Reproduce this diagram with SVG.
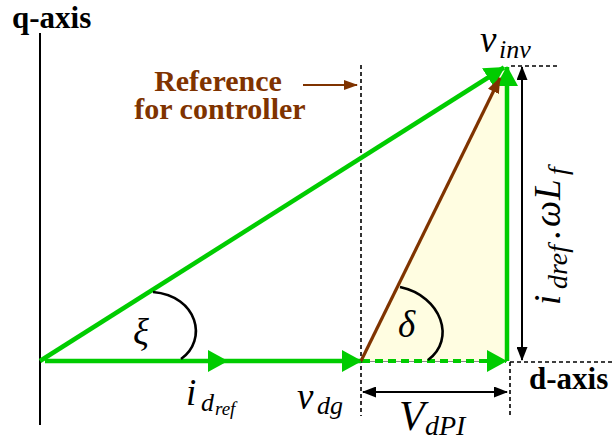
<svg xmlns="http://www.w3.org/2000/svg" width="612" height="440" viewBox="0 0 612 440">
<defs>
<marker id="gh" viewBox="0 0 20 22" refX="19" refY="11" markerUnits="userSpaceOnUse" markerWidth="20" markerHeight="22" orient="auto"><path d="M0,0 L20,11 L0,22 z" fill="#00cc00" stroke="none"/></marker>
<marker id="bh" viewBox="0 0 16 12" refX="15" refY="6" markerUnits="userSpaceOnUse" markerWidth="16" markerHeight="12" orient="auto"><path d="M0,0 L16,6 L0,12 z" fill="#7f3300" stroke="none"/></marker>
<marker id="bhs" viewBox="0 0 14 10" refX="13" refY="5" markerUnits="userSpaceOnUse" markerWidth="14" markerHeight="10" orient="auto"><path d="M0,0 L14,5 L0,10 z" fill="#7f3300" stroke="none"/></marker>
<marker id="kh" viewBox="0 0 14 11" refX="13" refY="5.5" markerUnits="userSpaceOnUse" markerWidth="14" markerHeight="11" orient="auto-start-reverse"><path d="M0,0 L14,5.5 L0,11 z" fill="#000" stroke="none"/></marker>
</defs>

<g id="triangle">
<polygon points="362,361 505,67 507,67 507,361" fill="#fffde1" stroke="none"/>
<line x1="362" y1="361.5" x2="507" y2="361.5" stroke="#888" stroke-width="1"/>
</g>

<g id="q-axis">
<line x1="40" y1="33" x2="40" y2="425" stroke="#000" stroke-width="2"/>
<text font-family="Liberation Serif" font-weight="bold" font-size="31" fill="#000" x="12" y="28">q-axis</text>
</g>

<g id="d-axis">
<text font-family="Liberation Serif" font-weight="bold" font-size="31" fill="#000" x="529" y="389">d-axis</text>
</g>

<g id="reference-label">
<text font-family="Liberation Serif" font-weight="bold" font-size="30" fill="#7f3300" x="218" y="91" text-anchor="middle">Reference</text>
<text font-family="Liberation Serif" font-weight="bold" font-size="30" fill="#7f3300" x="220" y="119" text-anchor="middle">for controller</text>
</g>

<g id="guides" stroke="#000" stroke-width="1.6" stroke-dasharray="4 3" fill="none">
<line x1="361" y1="65" x2="361" y2="416"/>
<line x1="510" y1="362" x2="510" y2="416"/>
<line x1="510" y1="362" x2="612" y2="362"/>
<line x1="511" y1="66" x2="560" y2="66"/>
</g>

<g id="connectors" fill="none">
<line stroke="#00cc00" stroke-width="4.5" x1="40" y1="361" x2="504" y2="67.5" marker-end="url(#gh)"/>
<line stroke="#00cc00" stroke-width="4.5" x1="45" y1="361" x2="227" y2="361" marker-end="url(#gh)"/>
<line stroke="#00cc00" stroke-width="4.5" x1="227" y1="361" x2="361" y2="361" marker-end="url(#gh)"/>
<line stroke="#00cc00" stroke-width="4.5" x1="507" y1="361" x2="507" y2="67" marker-end="url(#gh)"/>
<line stroke="#00cc00" stroke-width="4" stroke-dasharray="8 5" x1="362" y1="361" x2="506" y2="361" marker-end="url(#gh)"/>
<line stroke="#7f3300" stroke-width="3.2" x1="361" y1="361" x2="500" y2="78" marker-end="url(#bh)"/>
<line stroke="#7f3300" stroke-width="2" x1="303" y1="85" x2="357" y2="85" marker-end="url(#bhs)"/>
<line stroke="#000" stroke-width="2" x1="522" y1="67" x2="522" y2="360" marker-start="url(#kh)" marker-end="url(#kh)"/>
<line stroke="#000" stroke-width="2" x1="363" y1="392" x2="507" y2="392" marker-start="url(#kh)" marker-end="url(#kh)"/>
</g>

<g id="angles">
<path stroke="#000" stroke-width="2.6" fill="none" d="M153,292 C198,296 208,340 181,359"/>
<path stroke="#000" stroke-width="2.6" fill="none" d="M400,287 C442,296 456,340 428,360"/>
<text font-family="Liberation Serif" font-style="italic" font-size="37" fill="#000" x="133" y="345">ξ</text>
<text font-family="Liberation Serif" font-style="italic" font-size="37" fill="#000" x="398" y="337">δ</text>
</g>

<g id="labels">
<text font-family="Liberation Serif" font-style="italic" font-size="37" fill="#000" x="480" y="52">v<tspan font-size="26" x="499" y="58">inv</tspan></text>
<text font-family="Liberation Serif" font-style="italic" font-size="37" fill="#000" x="186" y="405">i<tspan font-size="26" x="201" y="411">d</tspan><tspan font-size="19" x="215" y="415">ref</tspan></text>
<text font-family="Liberation Serif" font-style="italic" font-size="37" fill="#000" x="297" y="409">v<tspan font-size="26" x="317" y="414">dg</tspan></text>
<text font-family="Liberation Serif" font-style="italic" font-size="42" fill="#000" x="399" y="430">V<tspan font-size="28" x="425" y="435">dPI</tspan></text>
<text font-family="Liberation Serif" font-style="italic" font-size="37" fill="#000" transform="translate(560,305) rotate(-90)" x="0" y="0">i<tspan font-size="28" x="16" y="7">dref</tspan><tspan x="66" y="0">.</tspan><tspan x="78" y="0">ω</tspan><tspan x="105" y="0">L</tspan><tspan font-size="28" x="130" y="7">f</tspan></text>
</g>
</svg>
